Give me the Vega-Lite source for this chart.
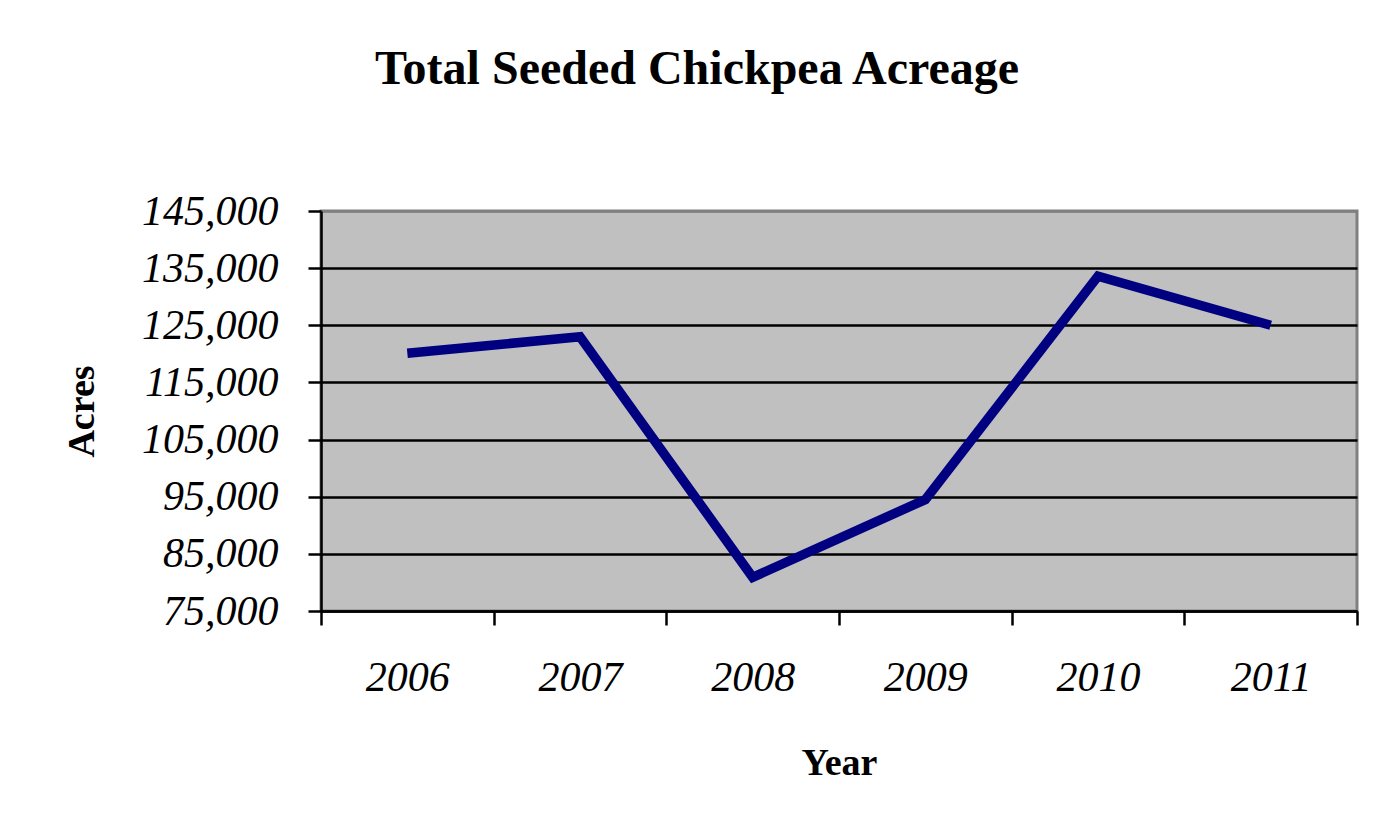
{
  "$schema": "https://vega.github.io/schema/vega-lite/v6.json",
  "autosize": {"type": "none"},
  "width": 1036,
  "height": 400,
  "padding": {"left": 321, "top": 211, "right": 18, "bottom": 225},
  "background": "white",
  "title": {
    "text": "Total Seeded Chickpea Acreage",
    "font": "Liberation Serif",
    "fontSize": 48,
    "fontWeight": "bold",
    "color": "black",
    "anchor": "middle",
    "dx": -142,
    "baseline": "alphabetic",
    "offset": 58
  },
  "data": {
    "values": [
      {"Year": "2006", "Acres": 120100},
      {"Year": "2007", "Acres": 123000},
      {"Year": "2008", "Acres": 80900},
      {"Year": "2009", "Acres": 94500},
      {"Year": "2010", "Acres": 133600},
      {"Year": "2011", "Acres": 125000}
    ]
  },
  "mark": {"type": "line", "color": "#000080", "strokeWidth": 9.5, "strokeCap": "butt", "strokeJoin": "miter"},
  "encoding": {
    "x": {
      "field": "Year",
      "type": "ordinal",
      "scale": {"paddingInner": 0, "paddingOuter": 0},
      "axis": {
        "title": "Year",
        "labelAngle": 0,
        "tickBand": "extent",
        "grid": false,
        "domainColor": "black",
        "domainWidth": 2.5,
        "tickColor": "black",
        "tickWidth": 2.5,
        "tickSize": 14,
        "labelFont": "Liberation Serif",
        "labelFontStyle": "italic",
        "labelFontSize": 42,
        "labelColor": "black",
        "labelPadding": 32,
        "titleFont": "Liberation Serif",
        "titleFontSize": 38,
        "titleFontWeight": "bold",
        "titleColor": "black",
        "titlePadding": 46
      }
    },
    "y": {
      "field": "Acres",
      "type": "quantitative",
      "scale": {"domain": [75000, 145000], "nice": false, "zero": false},
      "axis": {
        "title": "Acres",
        "values": [75000, 85000, 95000, 105000, 115000, 125000, 135000, 145000],
        "format": ",.0f",
        "grid": true,
        "gridColor": {"condition": {"test": "datum.value === 145000", "value": "#808080"}, "value": "black"},
        "gridWidth": 2.5,
        "domainColor": "black",
        "domainWidth": 2.5,
        "tickColor": "black",
        "tickWidth": 2.5,
        "tickSize": 13,
        "labelFont": "Liberation Serif",
        "labelFontStyle": "italic",
        "labelFontSize": 42,
        "labelColor": "black",
        "labelPadding": 30,
        "titleFont": "Liberation Serif",
        "titleFontSize": 38,
        "titleFontWeight": "bold",
        "titleColor": "black",
        "titlePadding": 40
      }
    }
  },
  "config": {
    "view": {"fill": "#c0c0c0", "stroke": "#808080", "strokeWidth": 3}
  }
}
